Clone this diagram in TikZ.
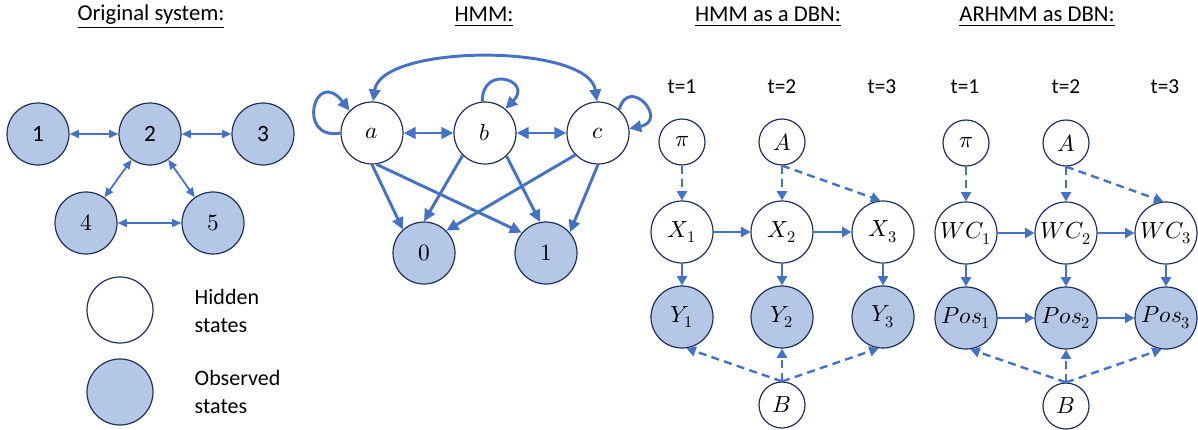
\documentclass[tikz,border=0pt]{standalone}
\usepackage{fontspec}
\usepackage{unicode-math}
\setmainfont{Carlito}
\setmathfont{Latin Modern Math}
\usetikzlibrary{arrows.meta}

\definecolor{edgeblue}{HTML}{4472C4}
\definecolor{obsfill}{HTML}{B4C7E7}
\definecolor{rimnavy}{HTML}{1F3158}

\begin{document}
\begin{tikzpicture}[x=0.75pt,y=-0.75pt,
  state/.style={circle,draw=rimnavy,line width=0.9pt,inner sep=0pt,
    minimum size=46.5pt,font=\fontsize{17.5}{20}\selectfont},
  param/.style={state,minimum size=34.5pt},
  legendnode/.style={state,minimum size=49.5pt},
  hid/.style={fill=white},
  obs/.style={fill=obsfill},
  title/.style={font=\fontsize{17}{20}\selectfont},
  tlabel/.style={font=\fontsize{16}{18}\selectfont},
  legtext/.style={font=\fontsize{16.5}{21}\selectfont,align=left,anchor=west},
  thinlink/.style={draw=edgeblue,line width=1.3pt,
    {Triangle[length=7pt,width=6pt]}-{Triangle[length=7pt,width=6pt]}},
  hmmlink/.style={draw=edgeblue,line width=2.2pt,
    -{Triangle[length=9pt,width=8.5pt]}},
  hmmboth/.style={hmmlink,{Triangle[length=9pt,width=8.5pt]}-{Triangle[length=9pt,width=8.5pt]}},
  dbnlink/.style={draw=edgeblue,line width=1.8pt,
    -{Triangle[length=7pt,width=7.5pt]}},
  dbndash/.style={dbnlink,dash pattern=on 6pt off 4pt},
]
\useasboundingbox (0,0) rectangle (1198,429);

% ---------- Original system ----------
\node[title] (t0) at (151,17) {\underline{Original system:}};
\node[state,obs] (o1) at (38,134) {1};
\node[state,obs] (o2) at (150,134) {2};
\node[state,obs] (o3) at (263,134) {3};
\node[state,obs] (o4) at (86,223) {$4$};
\node[state,obs] (o5) at (213,223) {$5$};
\draw[thinlink] (o1) -- (o2);
\draw[thinlink] (o2) -- (o3);
\draw[thinlink] (o2) -- (o4);
\draw[thinlink] (o2) -- (o5);
\draw[thinlink,line width=1pt] (o4) -- (o5);

% legend
\node[legendnode,hid] (lh) at (120,310) {};
\node[legendnode,obs] (lo) at (120,392) {};
\node[legtext] (lht) at (190,311) {Hidden\\states};
\node[legtext] (lot) at (190,392) {Observed\\states};

% ---------- HMM ----------
\node[title] (t1) at (484,17) {\underline{HMM:}};
\node[state,hid] (a) at (372,133) {$a$};
\node[state,hid] (b) at (485,133) {$b$};
\node[state,hid] (c) at (598,133) {$c$};
\node[state,obs] (e0) at (424,253) {$0$};
\node[state,obs] (e1) at (546,253) {$1$};

\draw[hmmboth] (a) -- (b);
\draw[hmmboth] (b) -- (c);
\draw[hmmboth] (a.88) .. controls +(8,-58) and +(-8,-58) .. (c.92);
\draw[hmmlink] (a.180) .. controls +(-45,8) and +(-35,-45) .. (a.135);
\draw[hmmlink] (b.95) .. controls +(0,-38) and +(28,-28) .. (b.50);
\draw[hmmlink] (c.48) .. controls +(10,-35) and +(40,-8) .. (c.8);

\draw[hmmlink] (a.-90) -- (e0.132);
\draw[hmmlink] (a.-82) -- (e1.140);
\draw[hmmlink] (b.-135) -- (e0.90);
\draw[hmmlink] (b.-47) -- (e1.101);
\draw[hmmlink] (c.-136) -- (e0.45);
\draw[hmmlink] (c.-90) -- (e1.41);

% ---------- HMM as a DBN ----------
\node[title] (t2) at (768,17) {\underline{HMM as a DBN:}};
\node[tlabel] (h1) at (682,87) {t=1};
\node[tlabel] (h2) at (782,87) {t=2};
\node[tlabel] (h3) at (882,87) {t=3};
\node[param,hid] (hpi) at (682,142) {$\pi$};
\node[param,hid] (hA) at (782,142) {$A$};
\node[state,hid] (x1) at (682,232) {$X_1$};
\node[state,hid] (x2) at (782,232) {$X_2$};
\node[state,hid] (x3) at (883,232) {$X_3$};
\node[state,obs] (y1) at (682,317) {$Y_1$};
\node[state,obs] (y2) at (782,317) {$Y_2$};
\node[state,obs] (y3) at (883,317) {$Y_3$};
\node[param,hid] (hB) at (782,405) {$B$};

\draw[dbndash] (hpi) -- (x1);
\draw[dbndash] (hA) -- (x2);
\draw[dbndash] (hA.south) -- (x3.95);
\draw[dbnlink] (x1) -- (x2);
\draw[dbnlink] (x2) -- (x3);
\draw[dbnlink] (x1) -- (y1);
\draw[dbnlink] (x2) -- (y2);
\draw[dbnlink] (x3) -- (y3);
\draw[dbndash] (hB.north) -- (y1.-82);
\draw[dbndash] (hB) -- (y2);
\draw[dbndash] (hB.north) -- (y3.-98);

% ---------- ARHMM as DBN ----------
\node[title] (t3) at (1037,17) {\underline{ARHMM as DBN:}};
\node[tlabel] (r1) at (965,87) {t=1};
\node[tlabel] (r2) at (1066,87) {t=2};
\node[tlabel] (r3) at (1165,87) {t=3};
\node[param,hid] (rpi) at (966,143) {$\pi$};
\node[param,hid] (rA) at (1066,143) {$A$};
\node[state,hid] (w1) at (966,233) {$WC_1$};
\node[state,hid] (w2) at (1066,233) {$WC_2$};
\node[state,hid] (w3) at (1166,233) {$WC_3$};
\node[state,obs] (p1) at (966,318) {$Pos_1$};
\node[state,obs] (p2) at (1066,318) {$Pos_2$};
\node[state,obs] (p3) at (1166,318) {$Pos_3$};
\node[param,hid] (rB) at (1066,406) {$B$};

\draw[dbndash] (rpi) -- (w1);
\draw[dbndash] (rA) -- (w2);
\draw[dbndash] (rA.south) -- (w3.95);
\draw[dbnlink] (w1) -- (w2);
\draw[dbnlink] (w2) -- (w3);
\draw[dbnlink] (w1) -- (p1);
\draw[dbnlink] (w2) -- (p2);
\draw[dbnlink] (w3) -- (p3);
\draw[dbnlink] (p1) -- (p2);
\draw[dbnlink] (p2) -- (p3);
\draw[dbndash] (rB.north) -- (p1.-82);
\draw[dbndash] (rB) -- (p2);
\draw[dbndash] (rB.north) -- (p3.-98);
\end{tikzpicture}
\end{document}
